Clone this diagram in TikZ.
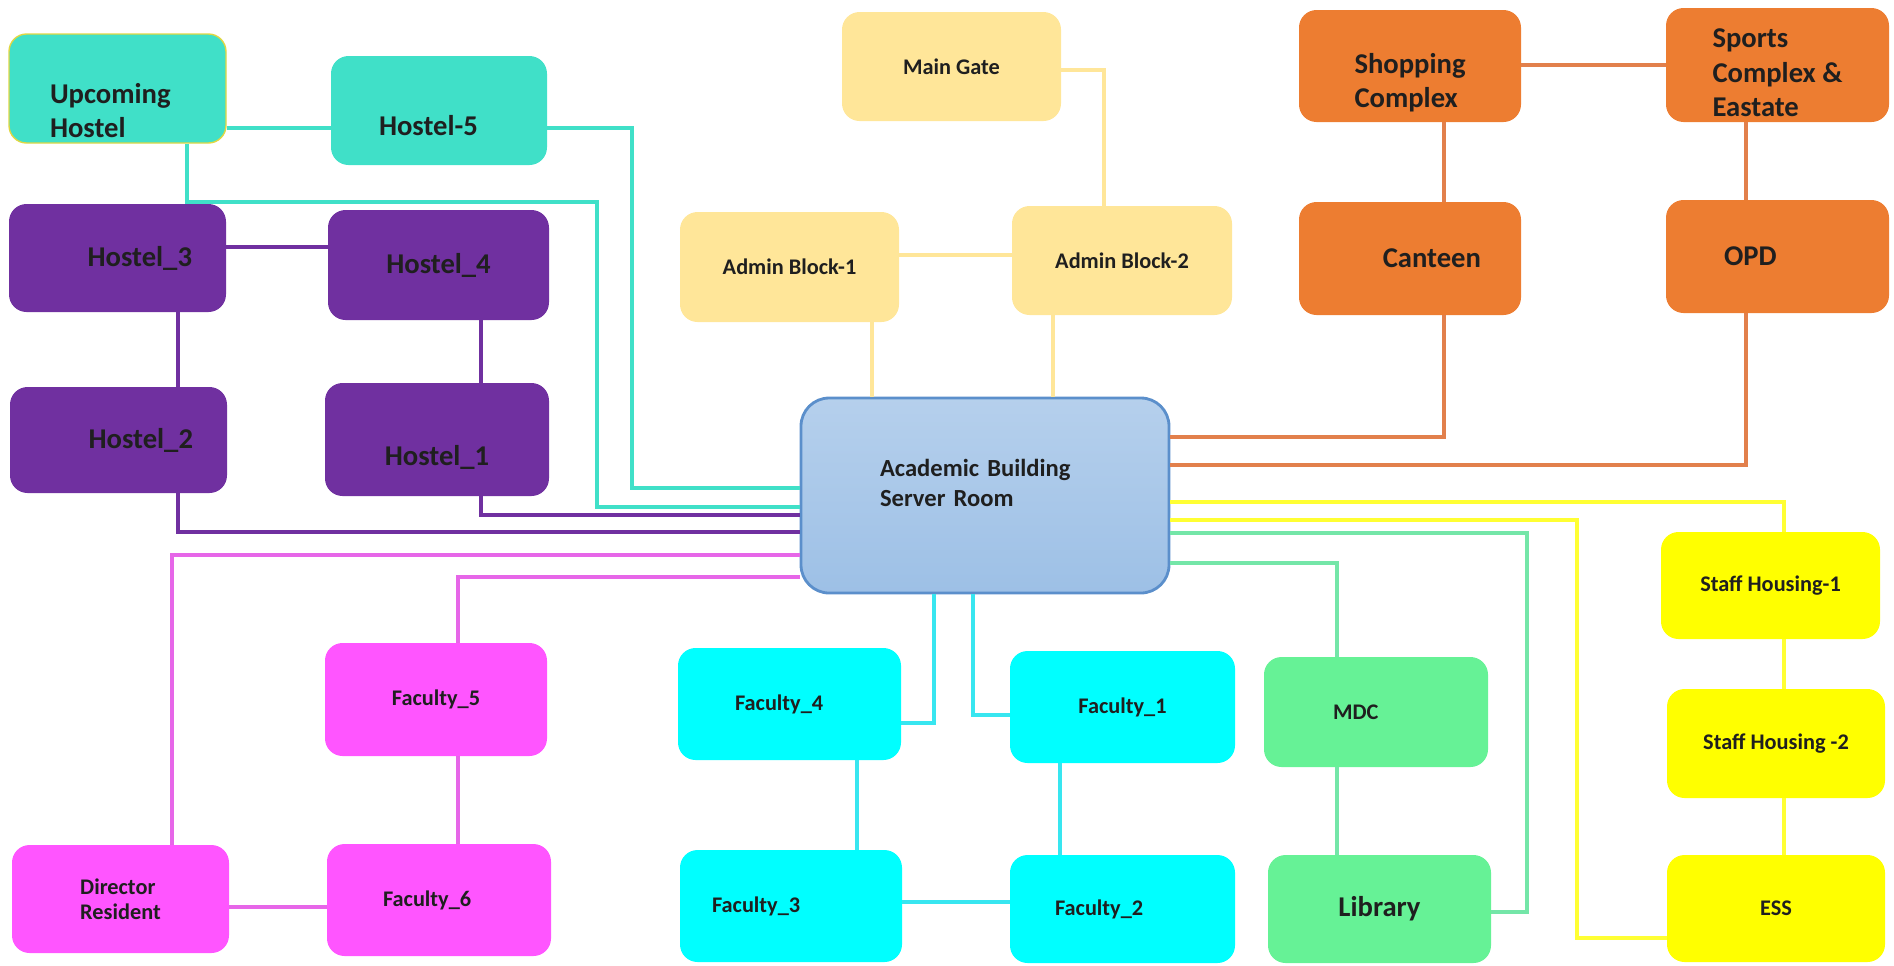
\documentclass[tikz,border=0pt]{standalone}
\usepackage{fontspec}
\setmainfont{Carlito}
\usepackage{xcolor}
\definecolor{hostelteal}{HTML}{40E0C8}
\definecolor{hostelpurple}{HTML}{7030A0}
\definecolor{adminpeach}{HTML}{FFE699}
\definecolor{shoporange}{HTML}{ED7D31}
\definecolor{shopline}{HTML}{E2804C}
\definecolor{facpink}{HTML}{FF55FF}
\definecolor{facpinkline}{HTML}{E666E8}
\definecolor{faccyan}{HTML}{00FFFF}
\definecolor{faccyanline}{HTML}{38E6F0}
\definecolor{libgreen}{HTML}{66F296}
\definecolor{libline}{HTML}{74E6A8}
\definecolor{staffyellow}{HTML}{FFFF00}
\definecolor{staffline}{HTML}{FFFF33}
\definecolor{serverblue}{HTML}{9DC0E6}
\definecolor{serveredge}{HTML}{5B8FCB}
\usetikzlibrary{positioning}
\tikzset{
  box/.style={rounded corners=10pt, inner sep=0pt, align=center, text=black!88,
    font=\bfseries\fontsize{12.7}{14.3}\selectfont},
  big/.style={font=\bfseries\fontsize{16.3}{19.6}\selectfont},
  sz/.style 2 args={minimum width=#1*0.02cm, minimum height=#2*0.02cm},
  tl/.style={text width=#1, align=left},
  tr/.style={text width=#1, align=right},
  link/.style={line width=2pt},
}

\begin{document}
\begin{tikzpicture}[x=0.02cm, y=-0.02cm]
  \useasboundingbox (0,0) rectangle (1894,965);

  % hostels
  \node[box, big, fill=hostelteal, draw=yellow!60!olive!70, line width=0.8pt, sz={217}{109},
    tl=2.7cm] (uh) at (117.5,88.5) {\\[17pt]Upcoming\\Hostel};
  \node[box, big, fill=hostelteal, sz={216}{109}, tl=2.4cm] (h5) at (439,110.5) {\\[9pt]Hostel-5};
  \node[box, big, fill=hostelpurple, sz={217}{108}, tr=2.98cm] (h3) at (117.5,258) {Hostel\_3};
  \node[box, big, fill=hostelpurple, sz={221}{110}] (h4) at (438.5,265) {Hostel\_4};
  \node[box, big, fill=hostelpurple, sz={217}{106}, tr=2.98cm] (h2) at (118.5,440) {Hostel\_2};
  \node[box, big, fill=hostelpurple, sz={224}{113}] (h1) at (437,439.5) {\\[12pt]Hostel\_1};

  % admin
  \node[box, fill=adminpeach, sz={219}{109}] (mg) at (951.5,66.5) {Main Gate};
  \node[box, fill=adminpeach, sz={219}{110}] (ab1) at (789.5,267) {Admin Block-1};
  \node[box, fill=adminpeach, sz={220}{109}] (ab2) at (1122,260.5) {Admin Block-2};

  % server room
  \node[box, rounded corners=16pt, top color=serverblue!75!white, bottom color=serverblue,
    draw=serveredge, line width=1.6pt, sz={368}{195}, tl=4.2cm,
    font=\bfseries\fontsize{14}{17}\selectfont] (srv) at (985,495.5)
    {Academic Building\\Server Room\\[-2.8pt]\mbox{}};

  % orange group
  \node[box, big, fill=shoporange, sz={222}{112}, align=left] (sc) at (1410,66) {\\[11pt]Shopping\\Complex};
  \node[box, big, fill=shoporange, sz={223}{114}, align=left] (spc) at (1777.5,65) {\\[0pt]Sports\\Complex \&\\Eastate};
  \node[box, big, fill=shoporange, sz={222}{113}, tr=2.84cm] (can) at (1410,258.5) {Canteen};
  \node[box, big, fill=shoporange, sz={223}{113}, tl=2.14cm] (opd) at (1777.5,256.5) {OPD};

  % faculty
  \node[box, fill=facpink, sz={217}{108}, align=left] (dr) at (120.5,899) {Director\\Resident};
  \node[box, fill=facpink, sz={222}{113}] (f5) at (436,699.5) {Faculty\_5};
  \node[box, fill=facpink, sz={224}{112}, tl=2.24cm] (f6) at (439,900) {Faculty\_6};
  \node[box, fill=faccyan, sz={223}{112}, tl=2.18cm] (f4) at (789.5,704) {Faculty\_4};
  \node[box, fill=faccyan, sz={225}{112}] (f1) at (1122.5,707) {Faculty\_1};
  \node[box, fill=faccyan, sz={222}{112}, tl=3.16cm] (f3) at (791,906) {Faculty\_3};
  \node[box, fill=faccyan, sz={225}{108}, tl=2.7cm] (f2) at (1122.5,909) {Faculty\_2};

  % mdc, library, staff
  \node[box, fill=libgreen, sz={224}{110}, tl=1.72cm] (mdc) at (1376,712) {MDC};
  \node[box, big, fill=libgreen, sz={223}{108}] (lib) at (1379.5,909) {Library};
  \node[box, fill=staffyellow, sz={219}{107}] (sh1) at (1770.5,585.5) {Staff Housing-1};
  \node[box, fill=staffyellow, sz={218}{109}] (sh2) at (1776,743.5) {Staff Housing -2};
  \node[box, fill=staffyellow, sz={218}{107}] (ess) at (1776,908.5) {ESS};

  \foreach \a/\b/\x/\c in {h3/h2/178/hostelpurple, h4/h1/481/hostelpurple, f5/f6/458/facpinkline,
      f4/f3/857/faccyanline, f1/f2/1060/faccyanline, mdc/lib/1337/libline, sc/can/1444/shopline,
      spc/opd/1746/shopline, sh1/sh2/1784/staffline, sh2/ess/1784/staffline}
    \draw[link, \c] (\a.south -| \x,0) -- (\b.north -| \x,0);
  \foreach \a/\b/\y/\c in {uh/h5/128/hostelteal, h3/h4/247/hostelpurple, ab1/ab2/255/adminpeach,
      sc/spc/65/shopline, dr/f6/907/facpinkline, f3/f2/902/faccyanline}
    \draw[link, \c] (\a.east |- 0,\y) -- (\b.west |- 0,\y);

  \draw[link, hostelteal] (h5.east |- 0,128) -- (632,128) |- (srv.west |- 0,488);
  \draw[link, hostelteal] (uh.south -| 187,0) |- (597,202) |- (srv.west |- 0,507);
  \draw[link, hostelpurple] (h1.south -| 481,0) |- (srv.west |- 0,515);
  \draw[link, hostelpurple] (h2.south -| 178,0) |- (srv.west |- 0,532);
  \draw[link, facpinkline] (dr.north -| 172,0) |- (srv.west |- 0,555);
  \draw[link, facpinkline] (f5.north -| 458,0) |- (srv.west |- 0,577);

  \draw[link, adminpeach] (mg.east |- 0,70) -| (ab2.north -| 1104,0);
  \draw[link, adminpeach] (ab1.south -| 872,0) -- (srv.north -| 872,0);
  \draw[link, adminpeach] (ab2.south -| 1053,0) -- (srv.north -| 1053,0);

  \draw[link, shopline] (can.south -| 1444,0) |- (srv.east |- 0,437);
  \draw[link, shopline] (opd.south -| 1746,0) |- (srv.east |- 0,465);
  \draw[link, staffline] (sh1.north -| 1784,0) |- (srv.east |- 0,502);
  \draw[link, staffline] (ess.west |- 0,938) -- (1577,938) |- (srv.east |- 0,520);
  \draw[link, libline] (lib.east |- 0,912) -- (1527,912) |- (srv.east |- 0,533);
  \draw[link, libline] (mdc.north -| 1337,0) |- (srv.east |- 0,563);

  \draw[link, faccyanline] (f4.east |- 0,723) -| (srv.south -| 934,0);
  \draw[link, faccyanline] (f1.west |- 0,715) -| (srv.south -| 973,0);
\end{tikzpicture}
\end{document}
